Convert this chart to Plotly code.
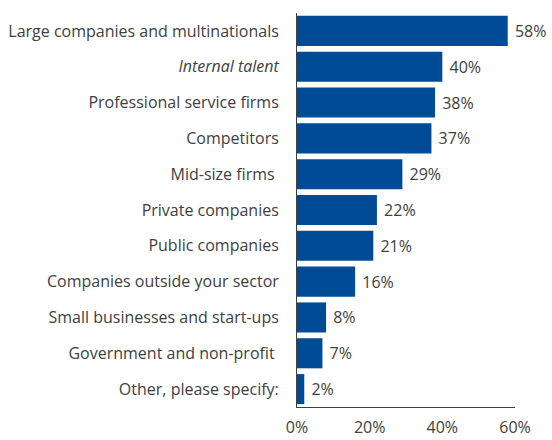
import plotly.graph_objects as go

categories = [
    "Large companies and multinationals",
    "<i>Internal talent</i>",
    "Professional service firms",
    "Competitors",
    "Mid-size firms\u00a0",
    "Private companies",
    "Public companies",
    "Companies outside your sector",
    "Small businesses and start-ups",
    "Government and non-profit\u00a0",
    "Other, please specify:",
]
values = [58, 40, 38, 37, 29, 22, 21, 16, 8, 7, 2]
tick_vals = [0, 20, 40, 60]
tick_text = ["0%", "20%", "40%", "60%"]

BAR = "#004b95"
TEXT = "#404040"
FONT = "Open Sans"
SIZE = 16

fig = go.Figure(
    go.Bar(
        x=values,
        y=categories,
        orientation="h",
        marker=dict(color=BAR, line=dict(width=0)),
        text=[f"\u00a0{v}%" for v in values],
        textposition="outside",
        constraintext="none",
        textfont=dict(family=FONT, size=SIZE, color=TEXT),
        cliponaxis=False,
        hoverinfo="skip",
    )
)

fig.update_layout(
    width=552,
    height=440,
    margin=dict(l=297, r=37, t=13, b=33, autoexpand=False),
    paper_bgcolor="white",
    plot_bgcolor="white",
    bargap=0.16,
    showlegend=False,
    font=dict(family=FONT, size=SIZE, color=TEXT),
)

fig.update_xaxes(
    range=[0, 60],
    tickvals=tick_vals,
    ticktext=tick_text,
    showgrid=False,
    zeroline=False,
    showline=True,
    linecolor="#404040",
    linewidth=1,
    ticks="",
    automargin=False,
    ticklabelstandoff=6,
    tickfont=dict(family=FONT, size=SIZE, color=TEXT),
)

fig.update_yaxes(
    categoryorder="array",
    categoryarray=categories,
    autorange="reversed",
    showgrid=False,
    zeroline=False,
    showline=True,
    linecolor="#404040",
    linewidth=1,
    ticks="",
    automargin=False,
    ticklabelstandoff=14,
    tickfont=dict(family=FONT, size=SIZE, color=TEXT),
)

fig.write_html("out.html")
